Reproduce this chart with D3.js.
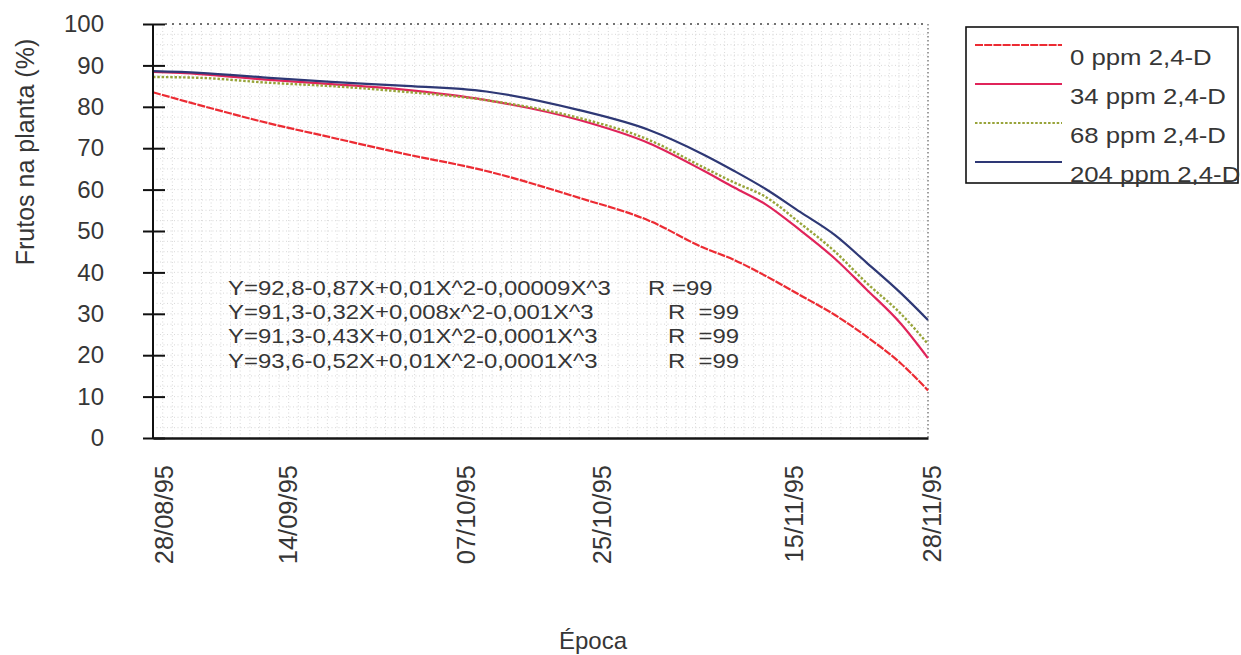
<!DOCTYPE html>
<html>
<head>
<meta charset="utf-8">
<script src="https://cdn.jsdelivr.net/npm/d3@7"></script>
<style>
  html, body { margin: 0; padding: 0; background: #fff; }
  svg { display: block; font-family: "Liberation Sans", Arial, sans-serif; }
</style>
</head>
<body>
<svg id="chart" width="1241" height="655"></svg>
<script>
// Sampling positions along the evaluation period (0 = first date, 100 = last)
const xPos = [0, 6, 15, 23, 32, 43, 55, 64, 71, 75, 79, 83.5, 88, 92, 96.5, 100];

// Fruits remaining on the plant (%) for each 2,4-D dose
const ppm0   = [83.5, 80.4, 76.0, 72.6, 68.8, 64.5, 58.0, 52.5, 46.0, 43.0, 39.2, 34.5, 29.7, 24.6, 18.0, 11.5];
const ppm34  = [88.4, 87.9, 86.5, 85.5, 84.2, 81.6, 76.8, 71.2, 64.6, 60.5, 56.5, 50.2, 43.3, 36.0, 27.6, 19.3];
const ppm68  = [87.2, 87.0, 85.8, 85.0, 83.7, 81.6, 77.3, 72.0, 65.4, 61.7, 58.3, 51.9, 45.0, 37.6, 30.0, 22.7];
const ppm204 = [88.6, 88.2, 87.0, 86.0, 85.1, 83.7, 79.2, 74.4, 68.5, 64.5, 60.2, 54.6, 49.0, 42.5, 35.0, 28.5];

const seriesNames = ["0 ppm 2,4-D", "34 ppm 2,4-D", "68 ppm 2,4-D", "204 ppm 2,4-D"];

// Date labels on the horizontal axis and their positions in the period
const dateLabels = ["28/08/95", "14/09/95", "07/10/95", "25/10/95", "15/11/95", "28/11/95"];
const datePos    = [1.3, 17.3, 40.3, 57.8, 82.6, 100.4];

const yTicks = [0, 10, 20, 30, 40, 50, 60, 70, 80, 90, 100];

// Fitted regression equations
const equations = [
  "Y=92,8-0,87X+0,01X^2-0,00009X^3",
  "Y=91,3-0,32X+0,008x^2-0,001X^3",
  "Y=91,3-0,43X+0,01X^2-0,0001X^3",
  "Y=93,6-0,52X+0,01X^2-0,0001X^3"
];
const rLabels = ["R =99", "R  =99", "R  =99", "R  =99"];

const seriesValues = [ppm0, ppm34, ppm68, ppm204];
const styles = [
  { color: "#ec2b33", width: 2.2, dash: "8,1.2" },
  { color: "#e0245a", width: 2.2, dash: null },
  { color: "#98a43a", width: 2.4, dash: "2.5,1.8" },
  { color: "#2e3875", width: 2.2, dash: null }
];

const svg = d3.select("#chart");
const plot = { left: 153, right: 928, top: 24, bottom: 438 };
const textColor = "#363636";

const x = d3.scaleLinear().domain([0, 100]).range([plot.left, plot.right]);
const y = d3.scaleLinear().domain([0, 100]).range([plot.bottom, plot.top]);

// Fine dotted background grid
const grid = svg.append("g").attr("stroke", "#b0b0b0").attr("stroke-width", 0.8)
  .attr("stroke-dasharray", "1,2.5").attr("opacity", 0.6);
grid.selectAll("line.v").data(d3.range(1.25, 100, 1.25)).join("line")
  .attr("x1", d => x(d)).attr("x2", d => x(d))
  .attr("y1", plot.top).attr("y2", plot.bottom);
grid.selectAll("line.h").data(d3.range(2.5, 100, 2.5)).join("line")
  .attr("x1", plot.left).attr("x2", plot.right)
  .attr("y1", d => y(d)).attr("y2", d => y(d));

// Dotted frame on the top and right
const frame = svg.append("g").attr("stroke", "#444").attr("stroke-width", 1.6)
  .attr("stroke-dasharray", "2,5").attr("fill", "none");
frame.append("line").attr("x1", x(0) + 12).attr("x2", x(100)).attr("y1", y(100)).attr("y2", y(100));
frame.append("line").attr("x1", x(100)).attr("x2", x(100)).attr("y1", y(100)).attr("y2", y(0))
  .attr("stroke", "#888").attr("stroke-dasharray", "1.5,2.5");

// Curves
const line = d3.line().x((d, i) => x(xPos[i])).y(d => y(d)).curve(d3.curveMonotoneX);
seriesValues.forEach((vals, k) => {
  svg.append("path").datum(vals)
    .attr("d", line)
    .attr("fill", "none")
    .attr("stroke", styles[k].color)
    .attr("stroke-width", styles[k].width)
    .attr("stroke-dasharray", styles[k].dash)
    .attr("stroke-linejoin", "round");
});

// Vertical axis
const yAxis = svg.append("g").attr("transform", `translate(${plot.left},0)`)
  .call(d3.axisLeft(y).tickValues(yTicks).tickSize(10).tickPadding(39));
yAxis.select(".domain").attr("stroke", "#111").attr("stroke-width", 2)
  .attr("d", `M0,${y(100)}V${y(0)}`);
yAxis.selectAll(".tick line").attr("stroke", "#111").attr("stroke-width", 2).attr("x2", -10);
yAxis.selectAll(".tick").append("line")
  .attr("x1", 0).attr("x2", 12).attr("stroke", "#111").attr("stroke-width", 2);
yAxis.selectAll(".tick text")
  .attr("font-family", "Liberation Sans, Arial, sans-serif")
  .attr("font-size", 24).attr("fill", textColor);

// Horizontal axis with rotated date labels
const xAxis = svg.append("g").attr("transform", `translate(0,${plot.bottom})`)
  .call(d3.axisBottom(x).tickValues(datePos).tickSize(0).tickFormat((d, i) => dateLabels[i]));
xAxis.select(".domain").attr("stroke", "#151515").attr("stroke-width", 2.6);
xAxis.selectAll(".tick text")
  .attr("font-family", "Liberation Sans, Arial, sans-serif")
  .attr("font-size", 25.5).attr("fill", textColor)
  .attr("text-anchor", "end")
  .attr("transform", "rotate(-90)")
  .attr("x", -27).attr("y", 0).attr("dy", "0.36em");

// Axis titles
svg.append("text")
  .attr("transform", `translate(34,${(y(100) + y(0)) / 2 - 79}) rotate(-90)`)
  .attr("text-anchor", "middle").attr("font-size", 25).attr("fill", textColor)
  .text("Frutos na planta (%)");
svg.append("text")
  .attr("x", 593).attr("y", 649).attr("text-anchor", "middle")
  .attr("font-size", 24).attr("fill", textColor)
  .text("Época");

// Regression equations (slightly widened face)
const eq = svg.append("g").attr("fill", textColor);
equations.forEach((t, i) => {
  const baseY = 295 + i * 24.2;
  eq.append("g").attr("transform", `translate(228,${baseY}) scale(1.14,1)`)
    .append("text").attr("font-size", 21).text(t);
  eq.append("g").attr("transform", `translate(${i === 0 ? 648 : 668},${baseY}) scale(1.14,1)`)
    .append("text").attr("font-size", 21).attr("xml:space", "preserve")
    .style("white-space", "pre").text(rLabels[i]);
});

// Legend
const lg = svg.append("g");
lg.append("rect").attr("x", 966).attr("y", 27).attr("width", 272).attr("height", 156)
  .attr("fill", "none").attr("stroke", "#111").attr("stroke-width", 1.6);
seriesNames.forEach((name, i) => {
  const ly = 45 + i * 39;
  lg.append("line").attr("x1", 975).attr("x2", 1062).attr("y1", ly).attr("y2", ly)
    .attr("stroke", styles[i].color).attr("stroke-width", 2)
    .attr("stroke-dasharray", styles[i].dash);
  lg.append("g").attr("transform", `translate(1070,${ly + 20}) scale(1.17,1)`)
    .append("text").attr("x", 0).attr("y", 0)
    .attr("font-size", 22).attr("fill", textColor).text(name);
});
</script>
</body>
</html>
